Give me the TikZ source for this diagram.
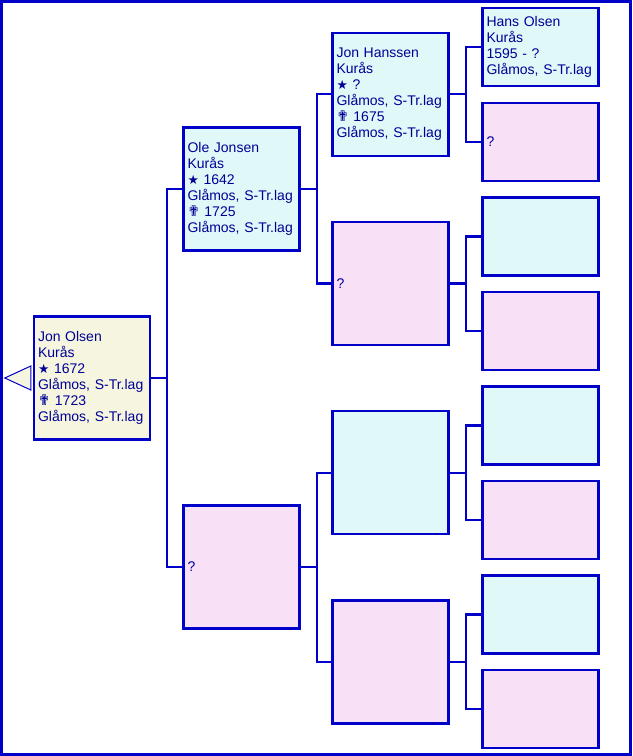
\documentclass[tikz,border=0pt]{standalone}
\usepackage{fontspec}
\setmainfont{Liberation Sans}
\newfontfamily\symfont{DejaVu Sans}
\definecolor{bc}{RGB}{0,0,200}
\definecolor{tc}{RGB}{0,0,150}
\definecolor{cyanf}{RGB}{224,248,248}
\definecolor{pinkf}{RGB}{248,224,246}
\definecolor{beigef}{RGB}{246,246,224}
\newcommand{\bstar}{{\symfont\fontsize{9.5pt}{9pt}\selectfont ★}}
\newcommand{\bcross}{{\symfont\fontsize{11pt}{9pt}\selectfont ✟}}
\tikzset{
  person/.style={draw=bc, line width=1.8pt, rectangle, inner xsep=3pt, inner ysep=0pt,
    text width=81pt, align=left, text=tc, font=\fontsize{10.5pt}{12pt}\selectfont,
    minimum width=87pt},
  big/.style={person, minimum height=92.25pt},
  small/.style={person, minimum height=58.5pt},
  male/.style={fill=cyanf},
  female/.style={fill=pinkf},
  root/.style={fill=beigef},
  conn/.style={draw=bc, line width=1.8pt},
}
\begin{document}
\begin{tikzpicture}[x=0.75pt, y=-0.75pt]
\useasboundingbox (0,0) rectangle (632,756);
\draw[bc, line width=2pt] (1.25,1.25) rectangle (630.75,754.75);
% root
\node[big, root] (r) at (92,378) {Jon Olsen\\Kurås\\\bstar\ 1672\\Glåmos, S-Tr.lag\\\bcross\ 1723\\Glåmos, S-Tr.lag};
% generation 1
\node[big, male] (f) at (241.5,189) {Ole Jonsen\\Kurås\\\bstar\ 1642\\Glåmos, S-Tr.lag\\\bcross\ 1725\\Glåmos, S-Tr.lag};
\node[big, female] (m) at (241.5,567) {?};
% generation 2
\node[big, male] (ff) at (390.5,94.3) {Jon Hanssen\\Kurås\\\bstar\ ?\\Glåmos, S-Tr.lag\\\bcross\ 1675\\Glåmos, S-Tr.lag};
\node[big, female] (fm) at (390.5,283.5) {?};
\node[big, male] (mf) at (390.5,472.7) {};
\node[big, female] (mm) at (390.5,662) {};
% generation 3
\node[small, male] (fff) at (540.5,47) {Hans Olsen\\Kurås\\1595 - ?\\Glåmos, S-Tr.lag};
\node[small, female] (ffm) at (540.5,141.8) {?};
\node[small, male] (fmf) at (540.5,236.4) {};
\node[small, female] (fmm) at (540.5,331) {};
\node[small, male] (mff) at (540.5,425.3) {};
\node[small, female] (mfm) at (540.5,520) {};
\node[small, male] (mmf) at (540.5,614.5) {};
\node[small, female] (mmm) at (540.5,709) {};
% triangle marker
\draw[bc, line width=0.75pt, fill=beigef] (r.west) ++(-2,0) coordinate (tb) ++(0,-12) -- ++(-26,12) -- ++(26,12) -- cycle;
% connectors
\foreach \p/\a/\b in {r/f/m, f/ff/fm, m/mf/mm, ff/fff/ffm, fm/fmf/fmm, mf/mff/mfm, mm/mmf/mmm} {
  \draw[conn] (\p.east) -- ++(16,0) |- (\a.west);
  \draw[conn] (\p.east) -- ++(16,0) |- (\b.west);
}
\end{tikzpicture}
\end{document}
